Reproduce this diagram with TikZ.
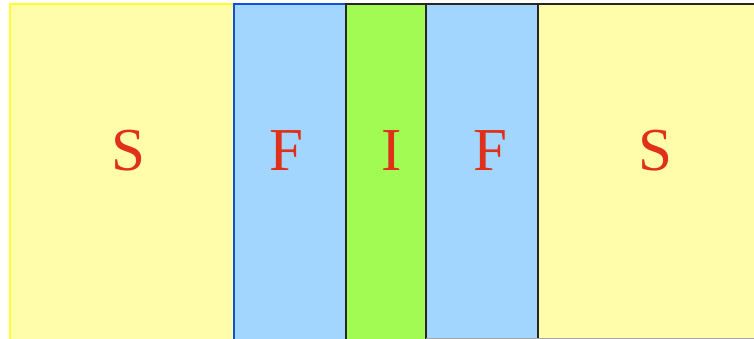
\documentclass[tikz,border=0pt]{standalone}
\usepackage{fontspec}
\setmainfont{Liberation Serif}
\definecolor{sy}{HTML}{FFFCAA}
\definecolor{sb}{HTML}{A2D6FE}
\definecolor{sg}{HTML}{A2FB52}
\definecolor{txt}{HTML}{E0301A}
\definecolor{yb}{HTML}{FFFF30}
\definecolor{bb}{HTML}{1050E0}
\tikzset{lbl/.style={text=txt,font=\fontsize{61}{61}\selectfont,inner sep=0pt,anchor=base},
 slab/.style={line width=1.5pt}}
\begin{document}
\begin{tikzpicture}[x=1pt,y=-1pt]
\useasboundingbox (0,0) rectangle (754,339);
\fill[white] (0,0) rectangle (754,339);
\draw[slab,fill=sy,draw=yb] (10,4) rectangle (234,345);
\draw[slab,fill=sy,draw=black!85] (538,4) rectangle (760,345);
\draw[slab,fill=sb,draw=bb] (234,4) rectangle (346,345);
\draw[slab,fill=sb,draw=black!85] (426,4) rectangle (538,345);
\draw[slab,fill=sg,draw=black!85] (346,4) rectangle (426,345);
\draw[black!35,line width=0.8pt] (426,338.6) -- (754,338.6);
\node[lbl] (s1) at (128,171) {S};
\node[lbl] (f1) at (286,171) {F};
\node[lbl] (i) at (392,171) {I};
\node[lbl] (f2) at (490,171) {F};
\node[lbl] (s2) at (655,171) {S};
\end{tikzpicture}
\end{document}
